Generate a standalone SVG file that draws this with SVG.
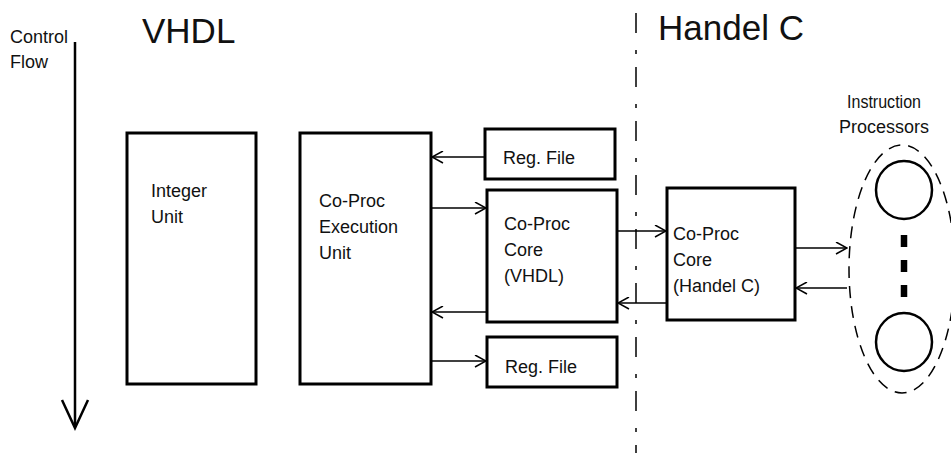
<svg xmlns="http://www.w3.org/2000/svg" width="951" height="462" viewBox="0 0 951 462">
  <style>
    .box { fill: #fff; stroke: #000; stroke-width: 3; }
    .lbl { font-family: "Liberation Sans", Arial, sans-serif; font-size: 18px; fill: #111; }
    .title { font-family: "Liberation Sans", Arial, sans-serif; font-size: 35px; fill: #111; }
    .conn { stroke: #000; stroke-width: 1.5; fill: none; marker-end: url(#open); }
  </style>
  <defs>
    <marker id="open" viewBox="0 0 13 13" refX="12" refY="6.5" markerWidth="13" markerHeight="13" markerUnits="userSpaceOnUse" orient="auto">
      <path d="M1,0.5 L12,6.5 L1,12.5" fill="none" stroke="#000" stroke-width="1.5"/>
    </marker>
  </defs>
  <rect width="951" height="462" fill="#fff"/>

  <!-- control flow indicator -->
  <g id="control-flow">
    <text class="lbl" x="10" y="43">Control</text>
    <text class="lbl" x="10" y="68">Flow</text>
    <line x1="75" y1="42" x2="75" y2="427" stroke="#000" stroke-width="2.5"/>
    <polyline points="62,400 75,428 88,400" fill="none" stroke="#000" stroke-width="2.5"/>
  </g>

  <!-- domain titles and boundary -->
  <g id="titles">
    <text class="title" x="142" y="43">VHDL</text>
    <text class="title" x="658" y="40">Handel C</text>
  </g>
  <g id="boundary">
    <line x1="636" y1="13" x2="636" y2="453" stroke="#000" stroke-width="1.5" stroke-dasharray="20 17 4 13"/>
  </g>

  <g id="integer-unit">
    <rect class="box" x="127" y="133" width="129" height="251"/>
    <text class="lbl" x="151" y="197">Integer</text>
    <text class="lbl" x="151" y="223">Unit</text>
  </g>

  <g id="exec-unit">
    <rect class="box" x="300" y="133" width="131" height="251"/>
    <text class="lbl" x="319" y="207">Co-Proc</text>
    <text class="lbl" x="319" y="233">Execution</text>
    <text class="lbl" x="319" y="259">Unit</text>
  </g>

  <g id="reg-file-top">
    <rect class="box" x="485" y="129" width="130" height="50"/>
    <text class="lbl" x="503" y="164">Reg. File</text>
  </g>

  <g id="core-vhdl">
    <rect class="box" x="487" y="190" width="130" height="132"/>
    <text class="lbl" x="504" y="230">Co-Proc</text>
    <text class="lbl" x="504" y="256">Core</text>
    <text class="lbl" x="504" y="282">(VHDL)</text>
  </g>

  <g id="reg-file-bottom">
    <rect class="box" x="487" y="337" width="130" height="50"/>
    <text class="lbl" x="505" y="373">Reg. File</text>
  </g>

  <g id="core-handelc">
    <rect class="box" x="667" y="188" width="128" height="132"/>
    <text class="lbl" x="673" y="240">Co-Proc</text>
    <text class="lbl" x="673" y="266">Core</text>
    <text class="lbl" x="673" y="292">(Handel C)</text>
  </g>

  <g id="instruction-processors">
    <text class="lbl" x="847" y="108" textLength="74" lengthAdjust="spacingAndGlyphs">Instruction</text>
    <text class="lbl" x="839" y="133">Processors</text>
    <ellipse cx="902" cy="269" rx="53" ry="124" fill="none" stroke="#000" stroke-width="1.5" stroke-dasharray="12 8"/>
    <ellipse cx="904" cy="190" rx="28" ry="29" fill="none" stroke="#000" stroke-width="2.5"/>
    <ellipse cx="904" cy="342" rx="28" ry="29" fill="none" stroke="#000" stroke-width="2.5"/>
    <line x1="904" y1="235" x2="904" y2="298" stroke="#000" stroke-width="6.5" stroke-dasharray="12 13"/>
  </g>

  <!-- connectors -->
  <g id="connectors">
    <line class="conn" x1="485" y1="157" x2="432" y2="157"/>
    <line class="conn" x1="431" y1="208" x2="486" y2="208"/>
    <line class="conn" x1="487" y1="312" x2="432" y2="312"/>
    <line class="conn" x1="431" y1="361" x2="486" y2="361"/>
    <line class="conn" x1="617" y1="231" x2="666" y2="231"/>
    <line class="conn" x1="667" y1="303" x2="618" y2="303"/>
    <line class="conn" x1="795" y1="248" x2="847" y2="248"/>
    <line class="conn" x1="847" y1="288" x2="796" y2="288"/>
  </g>
</svg>
